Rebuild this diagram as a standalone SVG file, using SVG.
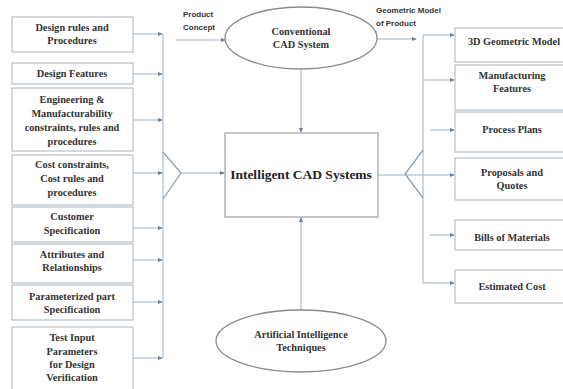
<svg xmlns="http://www.w3.org/2000/svg" width="563" height="389" viewBox="0 0 563 389">
<defs>
<marker id="arr" viewBox="0 0 6 6" refX="5" refY="3" markerWidth="5" markerHeight="5" orient="auto" markerUnits="userSpaceOnUse">
<path d="M0,0.5 L6,3 L0,5.5 Z" fill="#6f8090"/>
</marker>
</defs>
<style>
.box{fill:#ffffff;stroke:#a9b3bd;stroke-width:1}
.ell{fill:#ffffff;stroke:#8a8a8a;stroke-width:1.3}
.t{font-family:"Liberation Serif","Times New Roman",serif;font-weight:bold;font-size:10.3px;fill:#333;text-anchor:middle}
.big{font-family:"Liberation Serif","Times New Roman",serif;font-weight:bold;font-size:13.5px;fill:#222;text-anchor:middle}
.lbl{font-family:"Liberation Sans",Arial,sans-serif;font-weight:bold;font-size:8px;fill:#333}
.c{fill:none;stroke:#9fb0c0;stroke-width:1}
.ca{fill:none;stroke:#9fb0c0;stroke-width:1;marker-end:url(#arr)}
.tri{fill:none;stroke:#8fa2b4;stroke-width:1.3}
</style>
<rect width="563" height="389" fill="#ffffff"/>
<g id="connectors">
<line class="c" x1="163" y1="34" x2="163" y2="358"/>
<line class="ca" x1="133" y1="34" x2="162" y2="34"/>
<line class="ca" x1="133" y1="74" x2="162" y2="74"/>
<line class="ca" x1="133" y1="120" x2="162" y2="120"/>
<line class="ca" x1="133" y1="173" x2="162" y2="173"/>
<line class="ca" x1="133" y1="228" x2="162" y2="228"/>
<line class="ca" x1="133" y1="260" x2="162" y2="260"/>
<line class="ca" x1="133" y1="302" x2="162" y2="302"/>
<line class="ca" x1="133" y1="358" x2="162" y2="358"/>
<polyline class="tri" points="163,152 181,173 163,199"/>
<line class="ca" x1="181" y1="173" x2="224" y2="173"/>
<line class="ca" x1="176" y1="40" x2="225" y2="40"/>
<line class="ca" x1="301" y1="70" x2="301" y2="132"/>
<line class="ca" x1="301" y1="310" x2="301" y2="218"/>
<line class="ca" x1="377" y1="39" x2="416" y2="39"/>
<line class="c" x1="423" y1="35" x2="423" y2="283"/>
<line class="ca" x1="423" y1="35" x2="454" y2="35"/>
<line class="ca" x1="423" y1="80" x2="454" y2="80"/>
<line class="ca" x1="430" y1="130" x2="454" y2="130"/>
<line class="ca" x1="378" y1="175" x2="454" y2="175"/>
<line class="ca" x1="430" y1="235" x2="454" y2="235"/>
<line class="ca" x1="423" y1="283" x2="454" y2="283"/>
<polyline class="tri" points="423,150 405,174 423,198"/>
</g>
<g id="n-design-rules"><rect class="box" x="12" y="17" width="121" height="35"/><text class="t" x="72" y="31">Design rules and</text><text class="t" x="72" y="44">Procedures</text></g>
<g id="n-design-features"><rect class="box" x="12" y="63" width="121" height="21"/><text class="t" x="72" y="77">Design Features</text></g>
<g id="n-engineering"><rect class="box" x="12" y="88" width="121" height="63"/><text class="t" x="72" y="103">Engineering &amp;</text><text class="t" x="72" y="117">Manufacturability</text><text class="t" x="72" y="131">constraints, rules and</text><text class="t" x="72" y="145">procedures</text></g>
<g id="n-cost"><rect class="box" x="12" y="155" width="121" height="50"/><text class="t" x="72" y="168">Cost constraints,</text><text class="t" x="72" y="182">Cost rules and</text><text class="t" x="72" y="196">procedures</text></g>
<g id="n-customer"><rect class="box" x="12" y="207" width="121" height="35"/><text class="t" x="72" y="220">Customer</text><text class="t" x="72" y="234">Specification</text></g>
<g id="n-attributes"><rect class="box" x="12" y="244" width="121" height="39"/><text class="t" x="72" y="258">Attributes and</text><text class="t" x="72" y="271">Relationships</text></g>
<g id="n-parameterized"><rect class="box" x="12" y="285" width="121" height="35"/><text class="t" x="72" y="300">Parameterized part</text><text class="t" x="72" y="313">Specification</text></g>
<g id="n-test"><rect class="box" x="12" y="327" width="121" height="64"/><text class="t" x="72" y="341">Test Input</text><text class="t" x="72" y="355">Parameters</text><text class="t" x="72" y="368">for Design</text><text class="t" x="72" y="381">Verification</text></g>
<g id="n-conventional"><ellipse class="ell" cx="301" cy="38" rx="76" ry="31"/><text class="t" x="301" y="35">Conventional</text><text class="t" x="301" y="48">CAD System</text></g>
<g id="n-intelligent"><rect class="box" x="225" y="133" width="153" height="84" style="stroke:#8f8f8f"/><text class="big" x="301" y="179">Intelligent CAD Systems</text></g>
<g id="n-ai"><ellipse class="ell" cx="301" cy="341" rx="85" ry="31"/><text class="t" x="301" y="338">Artificial Intelligence</text><text class="t" x="301" y="351">Techniques</text></g>
<g id="l-product"><text class="lbl" x="183" y="17">Product</text><text class="lbl" x="183" y="30">Concept</text></g>
<g id="l-geometric"><text class="lbl" x="376" y="13">Geometric Model</text><text class="lbl" x="376" y="26">of Product</text></g>
<g id="n-3d"><rect class="box" x="455" y="28" width="115" height="34"/><text class="t" x="514" y="45">3D Geometric Model</text></g>
<g id="n-mfg"><rect class="box" x="455" y="65" width="115" height="45"/><text class="t" x="512" y="79">Manufacturing</text><text class="t" x="512" y="92">Features</text></g>
<g id="n-process"><rect class="box" x="455" y="112" width="115" height="40"/><text class="t" x="512" y="133">Process Plans</text></g>
<g id="n-proposals"><rect class="box" x="455" y="158" width="115" height="42"/><text class="t" x="512" y="176">Proposals and</text><text class="t" x="512" y="189">Quotes</text></g>
<g id="n-bills"><rect class="box" x="455" y="220" width="115" height="30"/><text class="t" x="512" y="241">Bills of Materials</text></g>
<g id="n-estimated"><rect class="box" x="455" y="270" width="115" height="33"/><text class="t" x="512" y="290">Estimated Cost</text></g>
</svg>
